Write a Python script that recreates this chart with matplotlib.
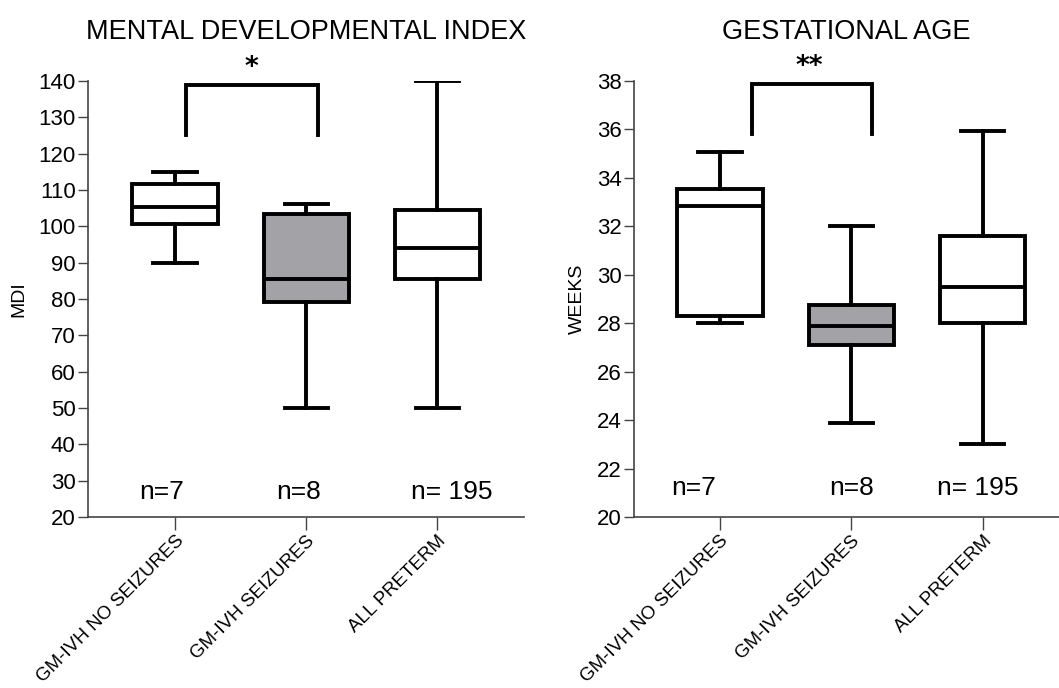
import numpy as np
import matplotlib
matplotlib.use("Agg")
import matplotlib.pyplot as plt

plt.rcParams["font.family"] = ["Liberation Sans Narrow", "Liberation Sans", "DejaVu Sans"]

groups = ["GM-IVH NO SEIZURES", "GM-IVH SEIZURES", "ALL PRETERM"]
n_labels = ["n=7", "n=8", "n= 195"]

# mental developmental index
mdi_low = [90, 50, 50]
mdi_q1 = [100.6, 79.1, 85.5]
mdi_med = [105.2, 85.5, 94.0]
mdi_q3 = [111.6, 103.4, 104.5]
mdi_high = [115, 106, 140]

# gestational age (weeks)
ga_low = [28.0, 23.9, 23.0]
ga_q1 = [28.3, 27.1, 28.0]
ga_med = [32.85, 27.9, 29.5]
ga_q3 = [33.55, 28.75, 31.6]
ga_high = [35.05, 32.0, 35.95]

fills = ["white", "#a3a2a7", "white"]
lw = 2.8


def draw_panel(ax, low, q1, med, q3, high, title, ylabel, yticks,
               bracket, stars, star_x, n_x, n_y, xmin, xmax):
    stats = []
    for i in range(3):
        stats.append({"whislo": low[i], "q1": q1[i], "med": med[i],
                      "q3": q3[i], "whishi": high[i], "fliers": []})
    bp = ax.bxp(stats, positions=[1, 2, 3], widths=0.65, patch_artist=True,
                showfliers=False,
                boxprops=dict(linewidth=lw, edgecolor="black"),
                medianprops=dict(linewidth=lw, color="black"),
                whiskerprops=dict(linewidth=lw, color="black"),
                capprops=dict(linewidth=lw, color="black"),
                capwidths=0.33)
    for patch, c in zip(bp["boxes"], fills):
        patch.set_facecolor(c)

    ax.set_xlim(xmin, xmax)
    ax.set_ylim(yticks[0], yticks[-1])
    ax.set_yticks(yticks)
    ax.set_xticks([1, 2, 3])
    ax.set_xticklabels(groups, rotation=45, ha="right", rotation_mode="anchor",
                       fontsize=13.5)
    ax.tick_params(axis="y", labelsize=16, length=7, width=1, color="#444444", pad=2)
    ax.tick_params(axis="x", length=9, width=1, color="#444444", pad=2)
    ax.spines["top"].set_visible(False)
    ax.spines["right"].set_visible(False)
    for s in ["left", "bottom"]:
        ax.spines[s].set_linewidth(1.2)
        ax.spines[s].set_color("#444444")
    ax.set_ylabel(ylabel, fontsize=14, labelpad=8)
    ax.set_title(title, fontsize=19.5, pad=30)

    bx0, bx1, by0, by1 = bracket
    ax.plot([bx0, bx0, bx1, bx1], [by0, by1, by1, by0], color="black",
            lw=lw, clip_on=False, solid_joinstyle="miter")
    ax.annotate(stars, xy=(star_x, by1), xytext=(0, 3), textcoords="offset points",
                ha="center", va="bottom", fontsize=19, fontweight="bold",
                family="DejaVu Sans", annotation_clip=False)

    for x, t in zip(n_x, n_labels):
        ax.text(x, n_y, t, ha="center", va="center", fontsize=19)


fig = plt.figure(figsize=(10.59, 6.88), dpi=100)
ax1 = fig.add_axes([0.0831, 0.2485, 0.4117, 0.634])
ax2 = fig.add_axes([0.5987, 0.2485, 0.4013, 0.634])

draw_panel(ax1, mdi_low, mdi_q1, mdi_med, mdi_q3, mdi_high,
           "MENTAL DEVELOPMENTAL INDEX", "MDI", np.arange(20, 141, 10),
           (1.08, 2.09, 125.2, 138.9), "*", 1.58, [0.9, 1.94, 3.11], 26.8,
           0.336, 3.66)
draw_panel(ax2, ga_low, ga_q1, ga_med, ga_q3, ga_high,
           "GESTATIONAL AGE", "WEEKS", np.arange(20, 39, 2),
           (1.24, 2.16, 35.8, 37.85), "**", 1.68, [0.8, 2.0, 2.96], 21.2,
           0.346, 3.58)

fig.savefig("out.png", dpi=100)
